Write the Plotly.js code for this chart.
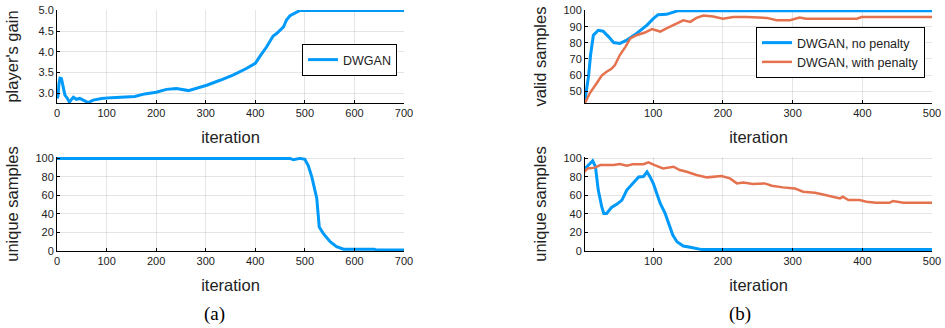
<!DOCTYPE html>
<html>
<head>
<meta charset="utf-8">
<script src="https://cdn.plot.ly/plotly-3.0.1.min.js"></script>
<style>html,body{margin:0;padding:0;background:#fff;}#plot{width:945px;height:328px;}</style>
</head>
<body>
<div id="plot"></div>
<script>
// (a) top: player's gain
const gainIter = [0,2,4,6,9,13,16,21,25,30,33,39,46,56,63,73,90,110,130,157,177,191,200,221,241,265,288,302,329,356,383,400,410,423,436,443,457,463,470,480,490,700];
const gainVal  = [2.87,2.92,3.23,3.36,3.35,3.07,2.95,2.87,2.78,2.86,2.9,2.85,2.87,2.81,2.77,2.83,2.87,2.89,2.91,2.92,2.98,3.01,3.02,3.09,3.11,3.06,3.13,3.19,3.31,3.44,3.6,3.72,3.9,4.12,4.38,4.44,4.6,4.77,4.87,4.93,5.0,5.0];
// (a) bottom: unique samples
const uniqIterA = [0,470,477,490,500,507,514,517,520,524,529,537,551,564,578,640,645,700];
const uniqValA  = [100,100,98.5,100,99,92,80,73.5,65,57,26,19,10,4.7,2,2,1,1];
// (b) top: valid samples
const validIterNP = [2,7,10,14,21,28,36,43,52,62,76,91,100,107,119,129,136,500];
const validNP     = [44.6,59,72.4,84.7,87.8,87.2,83.7,80.2,79.6,81.7,85.8,91,95,97.5,97.7,99.3,100,100];
const validIterWP = [2,9,19,26,33,40,45,52,60,67,76,88,98,110,119,134,143,153,162,172,186,200,215,234,263,277,296,310,319,392,399,500];
const validWP     = [42.6,48.8,55,59.7,62,63.8,66.2,72.4,77.5,82.7,84.7,86.4,88.5,87,89,92,94,93,95.5,97,96.3,95,96,96,95.5,94,94,95.7,95,95,96,96];
// (b) bottom: unique samples
const uniqIterNP = [2,8,13,17,21,26,29,33,40,48,55,62,71,79,86,91,95,100,105,110,117,122,128,134,143,153,160,170,500];
const uniqNP     = [89,93,97.4,91,65.8,47.8,40.6,40.6,47,50.7,55,65.8,73,80,80.5,85.5,80.5,73,62,51.4,40.6,29.9,17.3,10,5.4,4,2.7,1.5,1.5];
const uniqIterWP = [1,6,16,24,43,52,62,71,86,93,102,114,129,138,148,162,177,191,198,210,220,229,243,260,270,286,303,315,332,342,358,368,372,380,396,406,420,439,444,454,459,500];
const uniqWP     = [85.5,89.2,90,92.8,92.8,93.8,92,93.8,93.8,95.7,92.8,89.2,91,87.4,85.5,82,79.5,80,80.9,78.4,73,74,72.3,73,70.5,68.7,67.6,64,63,61.2,58.6,56.8,58.6,55,55,53.2,52,52,54,53,52,52];

const nameA = "DWGAN";
const nameNP = "DWGAN, no penalty";
const nameWP = "DWGAN, with penalty";
const xTitle = "iteration";
const captions = ["(a)", "(b)"];

const BLUE = "#009AFA", RED = "#E5724F";
const W = 945, H = 328;
const px = v => v / W;
const py = v => 1 - v / H;

const traces = [
  {x: gainIter, y: gainVal, xaxis: "x", yaxis: "y", name: nameA, mode: "lines",
   line: {color: BLUE, width: 3}, legend: "legend"},
  {x: uniqIterA, y: uniqValA, xaxis: "x2", yaxis: "y2", name: nameA, mode: "lines",
   line: {color: BLUE, width: 3}, showlegend: false},
  {x: validIterNP, y: validNP, xaxis: "x3", yaxis: "y3", name: nameNP, mode: "lines",
   line: {color: BLUE, width: 3}, legend: "legend2"},
  {x: validIterWP, y: validWP, xaxis: "x3", yaxis: "y3", name: nameWP, mode: "lines",
   line: {color: RED, width: 2.5}, legend: "legend2"},
  {x: uniqIterNP, y: uniqNP, xaxis: "x4", yaxis: "y4", name: nameNP, mode: "lines",
   line: {color: BLUE, width: 3}, showlegend: false},
  {x: uniqIterWP, y: uniqWP, xaxis: "x4", yaxis: "y4", name: nameWP, mode: "lines",
   line: {color: RED, width: 2.5}, showlegend: false}
];

const tickFont = {family: "Liberation Sans, Arial, sans-serif", size: 11, color: "#222"};
const titleFont = {family: "Liberation Sans, Arial, sans-serif", size: 16.5, color: "#222"};

function xa(domain, range, dtick, tick0, anchor) {
  return {domain: domain, range: range, dtick: dtick, tick0: tick0, anchor: anchor,
    showline: true, linecolor: "#000", linewidth: 1, mirror: false,
    showgrid: true, gridcolor: "rgba(0,0,0,0.1)", gridwidth: 1, zeroline: false,
    ticks: "inside", ticklen: 3, tickcolor: "#000", tickfont: tickFont,
    title: {text: xTitle, font: titleFont, standoff: 13}, fixedrange: true};
}
function ya(domain, range, dtick, tick0, anchor, title, fmt, standoff) {
  return {domain: domain, range: range, dtick: dtick, tick0: tick0, anchor: anchor,
    showline: true, linecolor: "#000", linewidth: 1, mirror: false,
    showgrid: true, gridcolor: "rgba(0,0,0,0.1)", gridwidth: 1, zeroline: false,
    ticks: "inside", ticklen: 3, tickcolor: "#000", tickfont: tickFont, tickformat: fmt,
    title: {text: title, font: titleFont, standoff: standoff}, fixedrange: true};
}

const xa1 = [px(57), px(404)], xb1 = [px(585), px(932)];
const yTop = [py(103), py(10)], yBot = [py(251), py(157)];

const layout = {
  width: W, height: H,
  margin: {l: 0, r: 0, t: 0, b: 0},
  paper_bgcolor: "#fff", plot_bgcolor: "#fff",
  font: {family: "Liberation Sans, Arial, sans-serif", color: "#222"},
  xaxis:  xa(xa1, [0, 700], 100, 0, "y"),
  yaxis:  ya(yTop, [2.76, 5.01], 0.5, 3, "x", "player's gain", ".1f", 15),
  xaxis2: xa(xa1, [0, 700], 100, 0, "y2"),
  yaxis2: ya(yBot, [0, 101.5], 20, 0, "x2", "unique samples", "", 12),
  xaxis3: xa(xb1, [2, 500], 100, 0, "y3"),
  yaxis3: ya(yTop, [42.6, 100.4], 10, 0, "x3", "valid samples", "", 12),
  xaxis4: xa(xb1, [2, 500], 100, 0, "y4"),
  yaxis4: ya(yBot, [0, 101.5], 20, 0, "x4", "unique samples", "", 12),
  showlegend: true,
  legend: {x: px(302), y: py(44), xanchor: "left", yanchor: "top",
    bgcolor: "#fff", bordercolor: "#000", borderwidth: 1,
    font: {family: "Liberation Sans, Arial, sans-serif", size: 12.5, color: "#222"}},
  legend2: {x: px(756), y: py(27), xanchor: "left", yanchor: "top",
    bgcolor: "#fff", bordercolor: "#000", borderwidth: 1, tracegroupgap: 0,
    font: {family: "Liberation Sans, Arial, sans-serif", size: 12.5, color: "#222"}},
  annotations: [
    {text: captions[0], x: px(214), y: py(314), xref: "paper", yref: "paper", showarrow: false,
     xanchor: "center", yanchor: "middle", font: {family: "Liberation Serif, Times New Roman, serif", size: 19, color: "#000"}},
    {text: captions[1], x: px(740), y: py(314), xref: "paper", yref: "paper", showarrow: false,
     xanchor: "center", yanchor: "middle", font: {family: "Liberation Serif, Times New Roman, serif", size: 19, color: "#000"}}
  ]
};

Plotly.newPlot("plot", traces, layout, {displayModeBar: false, staticPlot: true});
</script>
</body>
</html>
